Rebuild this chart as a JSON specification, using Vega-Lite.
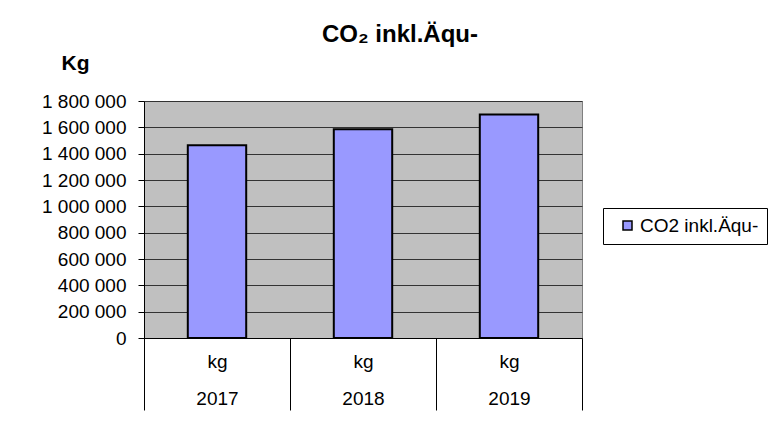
{
  "$schema": "https://vega.github.io/schema/vega-lite/v6.json",
  "width": 438,
  "height": 237,
  "autosize": "none",
  "padding": {"left": 144, "top": 101, "right": 186, "bottom": 110},
  "background": "white",
  "title": {
    "text": "CO₂ inkl.Äqu-",
    "fontSize": 24,
    "fontWeight": "bold",
    "anchor": "middle",
    "dx": 37,
    "offset": 5,
    "color": "black"
  },
  "data": {
    "values": [
      {"year": "2017", "series": "CO2 inkl.Äqu-", "kg": 1464000},
      {"year": "2018", "series": "CO2 inkl.Äqu-", "kg": 1585000},
      {"year": "2019", "series": "CO2 inkl.Äqu-", "kg": 1698000}
    ]
  },
  "mark": {"type": "bar", "width": {"band": 0.4}, "stroke": "black", "strokeWidth": 2},
  "encoding": {
    "x": {
      "field": "year",
      "type": "nominal",
      "scale": {"paddingInner": 0, "paddingOuter": 0},
      "axis": {
        "title": null,
        "labelAngle": 0,
        "labelExpr": "datum.label ? ['kg', datum.label] : ''",
        "labelFontSize": 19,
        "labelLineHeight": 37,
        "labelBaseline": "alphabetic",
        "labelPadding": -43,
        "labelColor": "black",
        "tickBand": "extent",
        "tickSize": 72,
        "tickColor": "black",
        "domainColor": "black"
      }
    },
    "y": {
      "field": "kg",
      "type": "quantitative",
      "scale": {"domain": [0, 1800000], "nice": false},
      "axis": {
        "title": "Kg",
        "titleAngle": 0,
        "titleX": -83,
        "titleY": -32,
        "titleAlign": "left",
        "titleBaseline": "alphabetic",
        "titleFontSize": 21,
        "titleFontWeight": "bold",
        "titleColor": "black",
        "values": [0, 200000, 400000, 600000, 800000, 1000000, 1200000, 1400000, 1600000, 1800000],
        "format": ",d",
        "labelFontSize": 19,
        "labelColor": "black",
        "labelPadding": 12,
        "tickSize": 6,
        "tickColor": "black",
        "domainColor": "black",
        "gridColor": "#333333",
        "gridOpacity": 1
      }
    },
    "color": {
      "field": "series",
      "type": "nominal",
      "scale": {"domain": ["CO2 inkl.Äqu-"], "range": ["#9999FF"]},
      "legend": {
        "title": null,
        "orient": "none",
        "legendX": 459,
        "legendY": 107,
        "strokeColor": "black",
        "fillColor": "white",
        "padding": 8,
        "symbolType": "square",
        "symbolSize": 81,
        "symbolOffset": 7,
        "symbolStrokeColor": "black",
        "symbolStrokeWidth": 1.5,
        "symbolOpacity": 1,
        "labelOffset": 3,
        "labelFontSize": 19,
        "labelColor": "black",
        "labelLimit": 300
      }
    }
  },
  "config": {
    "font": "Liberation Sans",
    "locale": {"number": {"decimal": ",", "thousands": " ", "grouping": [3], "currency": ["", " €"]}},
    "view": {"fill": "#C0C0C0", "stroke": "#808080"}
  }
}
